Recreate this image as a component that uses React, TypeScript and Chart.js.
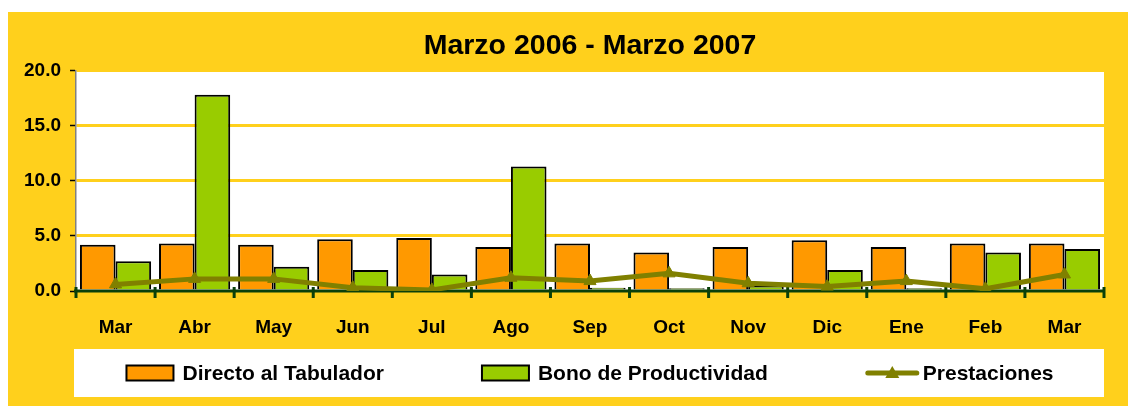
import React, { useEffect, useRef } from "react";
import { Chart, registerables } from "chart.js";

Chart.register(...registerables);

const categories = ["Mar", "Abr", "May", "Jun", "Jul", "Ago", "Sep", "Oct", "Nov", "Dic", "Ene", "Feb", "Mar"];
const directo = [4.2, 4.3, 4.2, 4.7, 4.8, 4.0, 4.3, 3.5, 4.0, 4.6, 4.0, 4.3, 4.3];
const bono = [2.7, 17.8, 2.2, 1.9, 1.5, 11.3, 0.3, 0.25, 0.5, 1.9, 0.25, 3.5, 3.8];
const prestaciones = [0.6, 1.1, 1.1, 0.3, 0.1, 1.2, 0.9, 1.6, 0.7, 0.4, 0.9, 0.2, 1.5];
const seriesNames = ["Directo al Tabulador", "Bono de Productividad", "Prestaciones"];
const titleText = "Marzo 2006 - Marzo 2007";
const yMin = 0;
const yMax = 20;
const yStep = 5;

const FONT = "'Liberation Sans', Arial, sans-serif";
const YELLOW = "#FFD01C";
const ORANGE = "#FF9900";
const GREEN = "#99CC00";
const OLIVE = "#808000";
const AXIS_GREEN = "#0A400A";

const plotBgPlugin = {
  id: "plotBg",
  beforeDraw(chart: any) {
    const { ctx, chartArea } = chart;
    ctx.save();
    ctx.fillStyle = "#FFFFFF";
    ctx.fillRect(chartArea.left, chartArea.top, chartArea.right - chartArea.left, chartArea.bottom - chartArea.top);
    ctx.restore();
  },
};

const titlePlugin = {
  id: "centeredTitle",
  afterDraw(chart: any) {
    const { ctx, chartArea } = chart;
    ctx.save();
    ctx.font = `bold 28.5px ${FONT}`;
    ctx.fillStyle = "#000000";
    ctx.textAlign = "center";
    ctx.textBaseline = "middle";
    ctx.fillText(titleText, (chartArea.left + chartArea.right) / 2, chartArea.top - 24);
    ctx.restore();
  },
};

const xAxisPlugin = {
  id: "xAxisLine",
  afterDatasetDraw(chart: any, args: any) {
    if (args.index !== 0) return;
    const { ctx, chartArea } = chart;
    const y = chart.scales.y.getPixelForValue(0);
    const n = chart.data.labels.length;
    const w = (chartArea.right - chartArea.left) / n;
    ctx.save();
    ctx.strokeStyle = AXIS_GREEN;
    ctx.lineWidth = 3;
    ctx.beginPath();
    ctx.moveTo(chartArea.left - 2, y);
    ctx.lineTo(chartArea.right, y);
    ctx.stroke();
    for (let i = 0; i <= n; i++) {
      const x = chartArea.left + i * w;
      ctx.beginPath();
      ctx.moveTo(x, y - 4);
      ctx.lineTo(x, y + 7);
      ctx.stroke();
    }
    ctx.restore();
  },
};

const legendPlugin = {
  id: "customLegend",
  afterDraw(chart: any) {
    const { ctx, chartArea } = chart;
    const boxTop = chartArea.bottom + 58;
    const boxH = 48;
    const boxLeft = chartArea.left - 2;
    const boxRight = chartArea.right;
    ctx.save();
    ctx.fillStyle = "#FFFFFF";
    ctx.fillRect(boxLeft, boxTop, boxRight - boxLeft, boxH);
    ctx.font = `bold 21px ${FONT}`;
    const cy = boxTop + boxH / 2;
    const ds = chart.data.datasets;
    const items = ds.map((d: any) => {
      const isLine = d.type === "line";
      const sw = isLine ? 53 : 47;
      const gap = isLine ? 4 : 9;
      const tw = ctx.measureText(d.label).width;
      return { d, isLine, sw, gap, tw, total: sw + gap + tw };
    });
    const spacing = 98;
    const totalW = items.reduce((a: number, it: any) => a + it.total, 0) + spacing * (items.length - 1);
    let x = (chartArea.left + chartArea.right) / 2 - totalW / 2;
    for (const it of items) {
      if (it.isLine) {
        ctx.strokeStyle = it.d.borderColor;
        ctx.lineWidth = 5;
        ctx.lineCap = "round";
        ctx.beginPath();
        ctx.moveTo(x + 2, cy);
        ctx.lineTo(x + it.sw - 2, cy);
        ctx.stroke();
        const cx = x + it.sw / 2;
        ctx.fillStyle = it.d.pointBackgroundColor;
        ctx.beginPath();
        ctx.moveTo(cx, cy - 7);
        ctx.lineTo(cx + 7, cy + 5);
        ctx.lineTo(cx - 7, cy + 5);
        ctx.closePath();
        ctx.fill();
      } else {
        ctx.fillStyle = it.d.backgroundColor;
        ctx.fillRect(x, cy - 7.5, it.sw, 15);
        ctx.strokeStyle = "#000000";
        ctx.lineWidth = 2;
        ctx.strokeRect(x, cy - 7.5, it.sw, 15);
      }
      ctx.fillStyle = "#000000";
      ctx.textAlign = "left";
      ctx.textBaseline = "middle";
      ctx.fillText(it.d.label, x + it.sw + it.gap, cy + 1);
      x += it.total + spacing;
    }
    ctx.restore();
  },
};

export default function App() {
  const canvasRef = useRef<HTMLCanvasElement | null>(null);

  useEffect(() => {
    if (!canvasRef.current) return;
    const chart = new Chart(canvasRef.current, {
      type: "bar",
      data: {
        labels: categories,
        datasets: [
          {
            type: "bar",
            label: seriesNames[0],
            data: directo,
            backgroundColor: ORANGE,
            borderColor: "#000000",
            borderWidth: 2,
            categoryPercentage: 0.9,
            barPercentage: 1.0,
            order: 1,
          } as any,
          {
            type: "bar",
            label: seriesNames[1],
            data: bono,
            backgroundColor: GREEN,
            borderColor: "#000000",
            borderWidth: 2,
            categoryPercentage: 0.9,
            barPercentage: 1.0,
            order: 1,
          } as any,
          {
            type: "line",
            label: seriesNames[2],
            data: prestaciones,
            borderColor: OLIVE,
            borderWidth: 5,
            pointStyle: "triangle",
            pointRadius: 7,
            pointBackgroundColor: OLIVE,
            pointBorderColor: OLIVE,
            pointBorderWidth: 1,
            tension: 0,
            fill: false,
            order: 0,
          } as any,
        ],
      },
      options: {
        responsive: false,
        animation: false,
        devicePixelRatio: 1,
        layout: { padding: { left: 0, right: 24, top: 58.6, bottom: 57 } },
        plugins: {
          legend: { display: false },
          tooltip: { enabled: false },
          title: { display: false },
        },
        scales: {
          x: {
            offset: true,
            grid: { display: false },
            border: { display: false },
            ticks: {
              color: "#000000",
              font: { family: FONT, size: 19, weight: "bold" },
              padding: 17,
              maxRotation: 0,
              autoSkip: false,
            },
            afterFit(scale: any) {
              scale.height = 58;
            },
          },
          y: {
            min: yMin,
            max: yMax,
            ticks: {
              stepSize: yStep,
              color: "#000000",
              font: { family: FONT, size: 19, weight: "bold" },
              padding: 9,
              callback: (v: any) => Number(v).toFixed(1),
            },
            grid: {
              color: YELLOW,
              lineWidth: 3,
              tickColor: "#000000",
              tickWidth: 1.5,
              tickLength: 6,
              drawOnChartArea: true,
            },
            border: { display: true, color: "#808080", width: 1.5 },
            afterFit(scale: any) {
              scale.width = 68;
            },
          },
        },
      } as any,
      plugins: [plotBgPlugin, xAxisPlugin, legendPlugin, titlePlugin],
    });
    return () => chart.destroy();
  }, []);

  return (
    <div
      style={{
        position: "absolute",
        left: 8,
        top: 12,
        width: 1120,
        height: 394,
        background: YELLOW,
      }}
    >
      <canvas ref={canvasRef} width={1120} height={394} style={{ display: "block" }} />
    </div>
  );
}
